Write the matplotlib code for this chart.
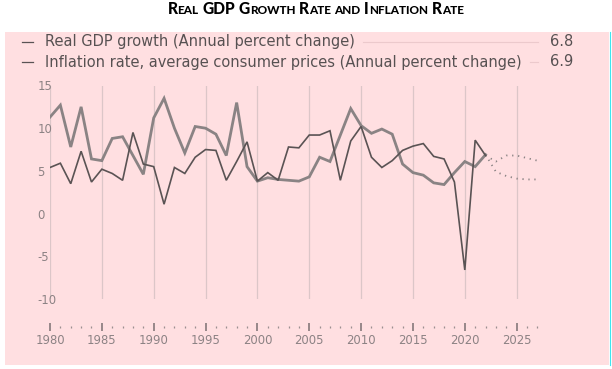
import matplotlib
matplotlib.use("Agg")
import matplotlib.pyplot as plt
from matplotlib.patches import Rectangle
import numpy as np

# data (annual percent change)
years = list(range(1980, 2023))
gdp_growth = [5.4, 5.9, 3.5, 7.3, 3.7, 5.2, 4.7, 3.9, 9.5, 5.8,
              5.5, 1.1, 5.4, 4.7, 6.6, 7.5, 7.4, 3.9, 6.1, 8.4,
              3.8, 4.8, 3.9, 7.8, 7.7, 9.2, 9.2, 9.7, 3.9, 8.5,
              10.2, 6.6, 5.4, 6.2, 7.4, 7.9, 8.2, 6.7, 6.4, 3.7,
              -6.6, 8.6, 6.8]
inflation = [11.3, 12.7, 7.8, 12.5, 6.4, 6.2, 8.8, 9.0, 6.8, 4.6,
             11.2, 13.5, 10.0, 7.1, 10.2, 10.0, 9.3, 6.8, 13.0, 5.5,
             3.8, 4.2, 4.0, 3.9, 3.8, 4.3, 6.6, 6.1, 9.2, 12.3,
             10.3, 9.4, 9.9, 9.3, 5.8, 4.8, 4.5, 3.6, 3.4, 4.8,
             6.1, 5.5, 6.9]
proj_years = [2022, 2023, 2024, 2025, 2026, 2027]
gdp_proj = [6.8, 6.1, 6.8, 6.8, 6.5, 6.2]
infl_proj = [6.9, 4.9, 4.4, 4.1, 4.0, 4.0]

title = "Real GDP Growth Rate and Inflation Rate"
series_labels = ["Real GDP growth (Annual percent change)",
                 "Inflation rate, average consumer prices (Annual percent change)"]
last_values = ["6.8", "6.9"]

W, H = 612, 369
PINK = "#ffdfe1"
GRID = "#dcc6c8"
TICKTXT = "#8c8284"
DARK = "#5a5354"
LIGHT = "#8a8384"

plt.rcParams['font.family'] = ['DejaVu Sans']
plt.rcParams['axes.unicode_minus'] = False

fig = plt.figure(figsize=(W / 100, H / 100), dpi=100)
fig.patch.set_facecolor("white")


def fx(px):
    return px / W


def fy(py):
    # py measured from top of image
    return 1 - py / H


# pink panel
fig.add_artist(Rectangle((fx(5), fy(365)), fx(604), 333 / H,
                         transform=fig.transFigure, facecolor=PINK,
                         edgecolor="none", zorder=0))
fig.add_artist(plt.Line2D([fx(609.5), fx(609.5)], [fy(365), fy(32)],
                          transform=fig.transFigure, color="#3ee6f0", lw=0.8))

# small caps title
renderer = fig.canvas.get_renderer()
tfam = ['Lato', 'DejaVu Sans']
big, small = 11.2, 8.5
texts = []
gap = 3.6
words = title.split(" ")
for wi, word in enumerate(words):
    runs = []
    for ch in word:
        size = big if ch.isupper() else small
        if runs and runs[-1][1] == size:
            runs[-1][0] += ch
        else:
            runs.append([ch, size])
    for ri, (chunk, size) in enumerate(runs):
        t = fig.text(0, fy(13.5), chunk.upper(), fontsize=size, fontweight="black",
                     family=tfam, color="black", ha="left", va="baseline")
        texts.append((t, wi, ri == 0))
widths = [t.get_window_extent(renderer).width for t, _, _ in texts]
total = sum(widths) + gap * (len(words) - 1)
x = 315.5 - total / 2
for (t, wi, first), w in zip(texts, widths):
    if first and wi > 0:
        x += gap
    t.set_x(fx(x))
    x += w

# legend rows
for i, (lab, val) in enumerate(zip(series_labels, last_values)):
    yy = fy(41.5 + 20.5 * i)
    fig.add_artist(plt.Line2D([fx(22), fx(33)], [yy, yy], transform=fig.transFigure,
                              color=DARK, lw=0.9))
    t = fig.text(fx(45), yy, lab, fontsize=10.5, color="#575152", va="center", ha="left")
    fig.text(fx(550), yy, val, fontsize=10.5, color="#575152", va="center", ha="left")
    x_end = t.get_window_extent(renderer).x1
    fig.add_artist(plt.Line2D([fx(x_end + 8), fx(538)], [yy, yy],
                              transform=fig.transFigure, color="#ecc9cc", lw=0.8))

# axes
ax = fig.add_axes([fx(50), (H - 299) / H, 10.37 * 48 / W, 213.5 / H])
ax.set_facecolor("none")
ax.set_xlim(1980, 2028)
ax.set_ylim(-10, 15)

ax.plot(years, inflation, color=LIGHT, lw=2.0, solid_joinstyle="miter", zorder=3)
ax.plot(years, gdp_growth, color=DARK, lw=1.2, solid_joinstyle="miter", zorder=4)
ax.plot(proj_years, gdp_proj, color=LIGHT, lw=1.3, linestyle=(0, (0.7, 2.6)), zorder=3)
ax.plot(proj_years, infl_proj, color=LIGHT, lw=1.3, linestyle=(0, (0.7, 2.6)), zorder=3)

for s in ["top", "right", "left"]:
    ax.spines[s].set_visible(False)
ax.spines["bottom"].set_position(("outward", 28 * 0.72))
ax.spines["bottom"].set_visible(False)

ax.set_xticks([y for y in range(1980, 2026, 5)])
ax.set_xticks([y for y in range(1980, 2028) if y % 5], minor=True)
ax.tick_params(axis="x", which="major", direction="inout", length=6, width=1.1,
               color="#7a7071", labelcolor=TICKTXT, labelsize=8.4, pad=2)
ax.tick_params(axis="x", which="minor", direction="inout", length=2, width=0.9,
               color="#9a8f90")
ax.grid(axis="x", which="major", color=GRID, lw=0.9, zorder=1)

ax.set_yticks([-10, -5, 0, 5, 10, 15])
ax.tick_params(axis="y", length=0, labelcolor=TICKTXT, labelsize=8.4, pad=9)
for lbl in ax.get_yticklabels():
    lbl.set_horizontalalignment("left")

fig.savefig("out.png", dpi=100)
